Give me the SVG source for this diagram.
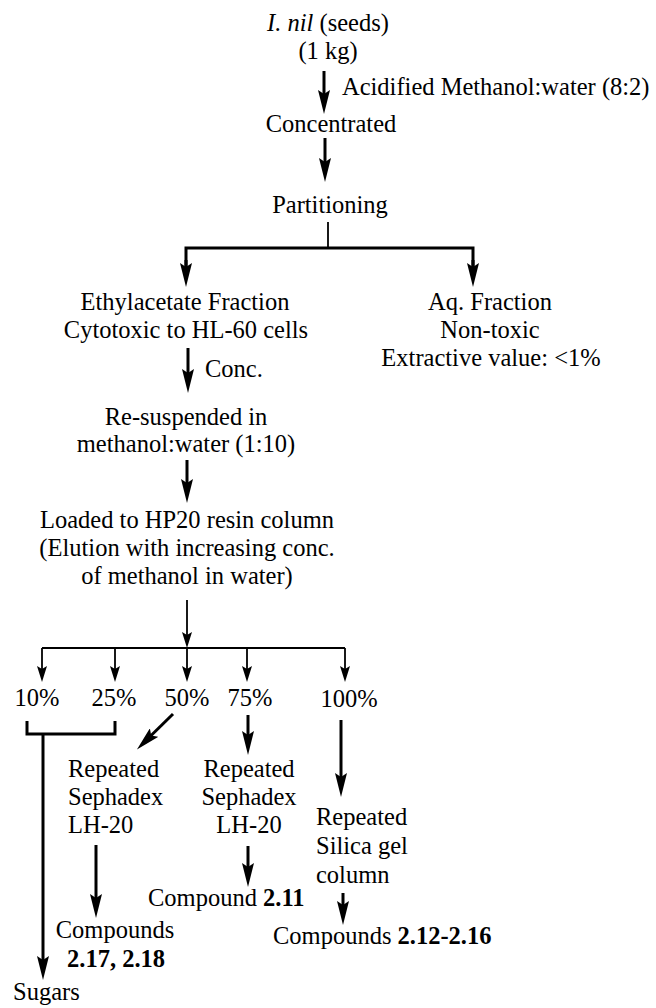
<svg xmlns="http://www.w3.org/2000/svg" width="656" height="1008" viewBox="0 0 656 1008" font-family="'Liberation Serif', 'DejaVu Serif', serif">
<style>
text{font-family:'Liberation Serif','DejaVu Serif',serif;font-size:24.5px;fill:#000}
.c{text-anchor:middle}
.b{font-weight:bold}
.i{font-style:italic}
.thick{stroke:#000;stroke-width:3;fill:none}
.thin{stroke:#000;stroke-width:1.8;fill:none}
</style>
<defs>
<marker id="big" viewBox="0 0 24 12" refX="12" refY="6" markerWidth="24" markerHeight="12" markerUnits="userSpaceOnUse" orient="auto">
<path d="M0,0 L24,6 L0,12 L4,6 z" fill="#000"/>
</marker>
<marker id="small" viewBox="0 0 16 10" refX="8" refY="5" markerWidth="16" markerHeight="10" markerUnits="userSpaceOnUse" orient="auto">
<path d="M0,0 L16,5 L0,10 L3,5 z" fill="#000"/>
</marker>
</defs>
<rect width="656" height="1008" fill="#fff"/>

<g id="connectors">
<line class="thick" x1="324" y1="71" x2="324" y2="102" marker-end="url(#big)"/>
<line class="thick" x1="325" y1="138" x2="325" y2="170" marker-end="url(#big)"/>
<line class="thin" x1="328" y1="222" x2="328" y2="248"/>
<polyline class="thick" points="186,275 186,248 473,248 473,275"/>
<line class="thick" x1="186" y1="260" x2="186" y2="275" marker-end="url(#big)"/>
<line class="thick" x1="473" y1="260" x2="473" y2="275" marker-end="url(#big)"/>
<line class="thick" x1="188" y1="348" x2="188" y2="381" marker-end="url(#big)"/>
<line class="thick" x1="187" y1="460" x2="187" y2="491" marker-end="url(#big)"/>
<line class="thin" x1="187" y1="600" x2="187" y2="640" marker-end="url(#small)"/>
<polyline class="thin" points="42,648 345,648"/>
<line class="thin" x1="42" y1="648" x2="42" y2="674" marker-end="url(#small)"/>
<line class="thin" x1="115" y1="648" x2="115" y2="674" marker-end="url(#small)"/>
<line class="thin" x1="187" y1="648" x2="187" y2="674" marker-end="url(#small)"/>
<line class="thin" x1="247" y1="648" x2="247" y2="674" marker-end="url(#small)"/>
<line class="thin" x1="345" y1="648" x2="345" y2="674" marker-end="url(#small)"/>
<polyline class="thick" points="27,721 27,734 115,734 115,721"/>
<line class="thick" x1="43" y1="734" x2="43" y2="968" marker-end="url(#big)"/>
<line class="thick" x1="173" y1="714" x2="145.5" y2="741" marker-end="url(#big)"/>
<line class="thick" x1="248" y1="715" x2="248" y2="743" marker-end="url(#big)"/>
<line class="thick" x1="341" y1="720" x2="341" y2="785" marker-end="url(#big)"/>
<line class="thick" x1="96" y1="845" x2="96" y2="906" marker-end="url(#big)"/>
<line class="thick" x1="248" y1="846" x2="248" y2="875" marker-end="url(#big)"/>
<line class="thick" x1="343" y1="893" x2="343" y2="913" marker-end="url(#big)"/>
</g>

<g id="seeds">
<text class="c" x="328" y="31"><tspan class="i">I. nil</tspan> (seeds)</text>
<text class="c" x="328" y="59">(1 kg)</text>
</g>
<g id="solvent">
<text x="342" y="95">Acidified Methanol:water (8:2)</text>
</g>
<g id="concentrated">
<text class="c" x="331" y="132">Concentrated</text>
</g>
<g id="partitioning">
<text class="c" x="330" y="213">Partitioning</text>
</g>
<g id="ethylacetate">
<text class="c" x="185" y="310">Ethylacetate Fraction</text>
<text class="c" x="186" y="338">Cytotoxic to HL-60 cells</text>
</g>
<g id="aqueous">
<text class="c" x="490" y="310">Aq. Fraction</text>
<text class="c" x="490" y="338">Non-toxic</text>
<text class="c" x="491" y="366">Extractive value: &lt;1%</text>
</g>
<g id="conc">
<text x="205" y="377">Conc.</text>
</g>
<g id="resuspended">
<text class="c" x="186" y="425">Re-suspended in</text>
<text class="c" x="186" y="452">methanol:water (1:10)</text>
</g>
<g id="hp20">
<text class="c" x="187" y="528">Loaded to HP20 resin column</text>
<text class="c" x="187" y="556">(Elution with increasing conc.</text>
<text class="c" x="187" y="584">of methanol in water)</text>
</g>
<g id="p10"><text class="c" x="37" y="706">10%</text></g>
<g id="p25"><text class="c" x="114" y="706">25%</text></g>
<g id="p50"><text class="c" x="187" y="706">50%</text></g>
<g id="p75"><text class="c" x="250" y="706">75%</text></g>
<g id="p100"><text class="c" x="349" y="707">100%</text></g>
<g id="sephadex1">
<text x="68" y="777">Repeated</text>
<text x="68" y="805">Sephadex</text>
<text x="68" y="833">LH-20</text>
</g>
<g id="sephadex2">
<text class="c" x="249" y="777">Repeated</text>
<text class="c" x="249" y="805">Sephadex</text>
<text class="c" x="249" y="833">LH-20</text>
</g>
<g id="silica">
<text x="316" y="825">Repeated</text>
<text x="316" y="854">Silica gel</text>
<text x="316" y="883">column</text>
</g>
<g id="cmp1718">
<text class="c" x="115" y="938">Compounds</text>
<text class="c b" x="116" y="967">2.17, 2.18</text>
</g>
<g id="cmp211">
<text x="148" y="906">Compound <tspan class="b">2.11</tspan></text>
</g>
<g id="cmp212">
<text x="273" y="944">Compounds <tspan class="b">2.12-2.16</tspan></text>
</g>
<g id="sugars">
<text x="13" y="1000">Sugars</text>
</g>
</svg>
